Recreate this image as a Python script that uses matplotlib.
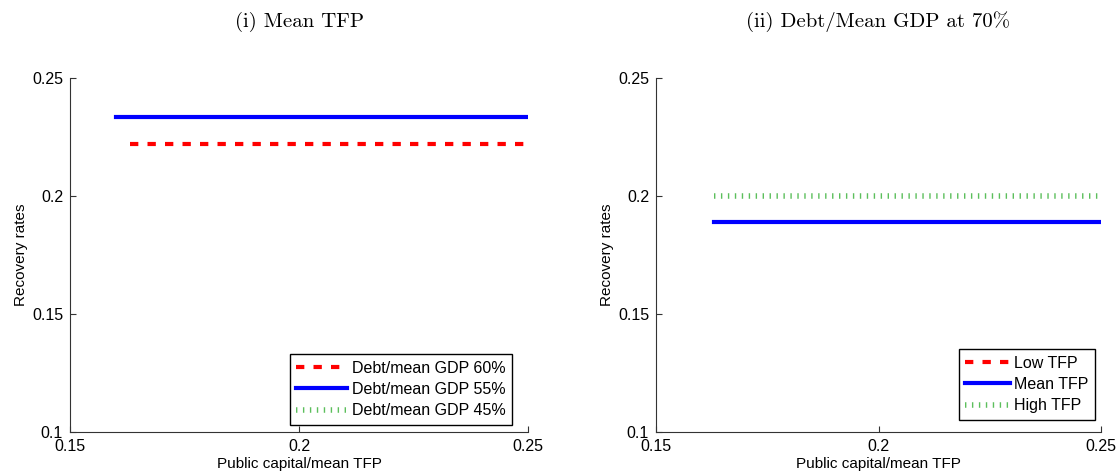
import numpy as np
import matplotlib.pyplot as plt

plt.rcParams['font.family'] = ['Liberation Sans', 'DejaVu Sans']

# public capital grid (fraction of mean TFP)
kg_debt = [0.16, 0.25]
kg_red = [0.163, 0.25]
kg_tfp = [0.163, 0.25]

# (i) recovery rates by debt level, mean TFP
rec_60 = [0.222, 0.222]
rec_55 = [0.2333, 0.2333]
rec_45 = []          # not reached on this grid

# (ii) recovery rates by TFP level, debt at 70% of mean GDP
rec_low = []         # not reached on this grid
rec_mean = [0.189, 0.189]
rec_high = [0.2, 0.2]

xticks = [0.15, 0.2, 0.25]
yticks = [0.1, 0.15, 0.2, 0.25]

red = dict(color='red', lw=3, ls=(0, (2, 2.2)), dash_capstyle='butt')
blue = dict(color='blue', lw=3, ls='-')
green = dict(color='#5cbf5c', lw=4, ls=(0, (0.25, 1.0)), dash_capstyle='butt')

fig = plt.figure(figsize=(11.17, 4.72), dpi=100)
ax1 = fig.add_axes([0.0627, 0.085, 0.41, 0.75])
ax2 = fig.add_axes([0.5873, 0.085, 0.3984, 0.75])

ax1.plot(kg_red, rec_60, label='Debt/mean GDP 60%', **red)
ax1.plot(kg_debt, rec_55, label='Debt/mean GDP 55%', **blue)
ax1.plot(kg_debt[:len(rec_45)], rec_45, label='Debt/mean GDP 45%', **green)

ax2.plot(kg_tfp[:len(rec_low)], rec_low, label='Low TFP', **red)
ax2.plot(kg_tfp, rec_mean, label='Mean TFP', **blue)
ax2.plot(kg_tfp, rec_high, label='High TFP', **green)

panels = [(ax1, '(i) Mean TFP', -0.092, (0.965, 0.02), 3.2),
          (ax2, '(ii) Debt/Mean GDP at 70%', -0.095, (0.987, 0.034), 2.8)]
for ax, title, ylx, anchor, hlen in panels:
    ax.set_xlim(0.15, 0.25)
    ax.set_ylim(0.1, 0.25)
    ax.set_xticks(xticks)
    ax.set_yticks(yticks)
    ax.set_xticklabels([str(t) for t in xticks])
    ax.set_yticklabels([str(t) for t in yticks])
    ax.spines['top'].set_visible(False)
    ax.spines['right'].set_visible(False)
    for s in ['left', 'bottom']:
        ax.spines[s].set_color('#333333')
    ax.tick_params(direction='in', length=4, labelsize=11.5, colors='#333333',
                   labelcolor='black', pad=5)
    ax.set_xlabel('Public capital/mean TFP', fontsize=11, labelpad=2)
    ax.set_ylabel('Recovery rates', fontsize=11)
    ax.yaxis.set_label_coords(ylx, 0.5)
    ax.set_title(title, fontsize=15, family='cmr10', pad=37)
    leg = ax.legend(loc='lower right', bbox_to_anchor=anchor, borderaxespad=0,
                    fontsize=11.5, handlelength=hlen, handletextpad=0.3,
                    labelspacing=0.4, borderpad=0.4, fancybox=False,
                    framealpha=1)
    leg.get_frame().set_edgecolor('black')
    leg.get_frame().set_linewidth(1.0)

fig.savefig('out.png', dpi=100)
